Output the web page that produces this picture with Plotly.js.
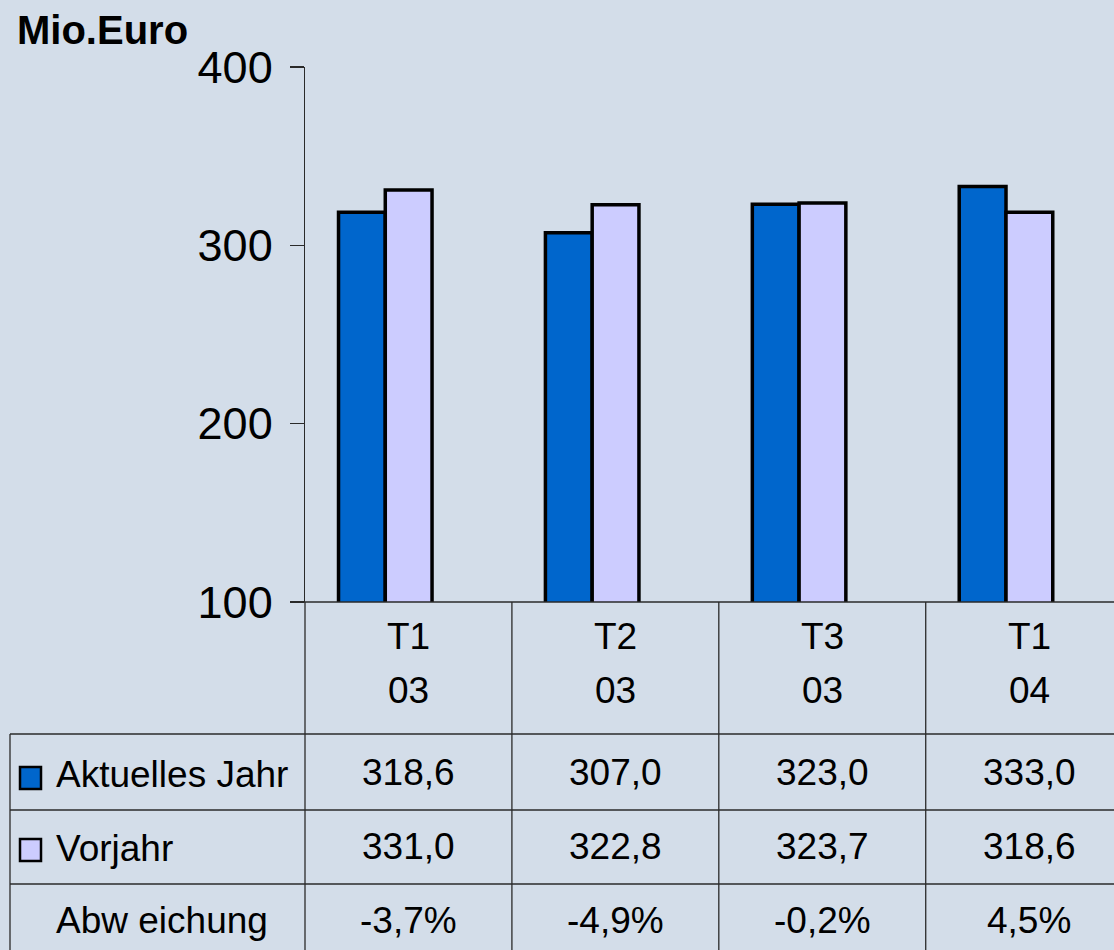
<!DOCTYPE html>
<html>
<head>
<meta charset="utf-8">
<script src="https://cdn.plot.ly/plotly-3.0.1.min.js"></script>
<style>
  body { margin: 0; background: #d3dde9; }
  #chart { width: 1114px; height: 950px; }
</style>
</head>
<body>
<div id="chart"></div>
<script>
"use strict";
// data
const quarters = ["T1", "T2", "T3", "T1"];
const years = ["03", "03", "03", "04"];
const aktuell = [318.6, 307.0, 323.0, 333.0];
const vorjahr = [331.0, 322.8, 323.7, 318.6];
const abweichung = [-3.7, -4.9, -0.2, 4.5];
const seriesNames = ["Aktuelles Jahr", "Vorjahr", "Abw eichung"];
const yTicks = [100, 200, 300, 400];

const BG = "#d3dde9";
const DARK = "#0066cc";
const LIGHT = "#ccccff";
const LINE = "#2a2a2a";
const FONT = "Liberation Sans, Arial, sans-serif";

// page geometry (pixels) used to place the table around the plot area
const L = 305, T = 67, PW = 809, PH = 535;
const px = x => (x - L) / PW;
const py = y => (T + PH - y) / PH;

const fmt = v => v.toFixed(1).replace(".", ",");
const idx = quarters.map((q, i) => i);

const traces = [
  {
    type: "bar", x: idx, y: aktuell, name: seriesNames[0],
    width: 0.226, offset: -0.338,
    marker: {color: DARK, line: {color: "#000", width: 3.5}},
    hoverinfo: "skip"
  },
  {
    type: "bar", x: idx, y: vorjahr, name: seriesNames[1],
    width: 0.226, offset: -0.112,
    marker: {color: LIGHT, line: {color: "#000", width: 3.5}},
    hoverinfo: "skip"
  }
];

const shapes = [];
const line = (x0, y0, x1, y1, xref) => shapes.push({
  type: "line", xref: xref || "paper", yref: "paper",
  x0: x0, y0: y0, x1: x1, y1: y1,
  line: {color: LINE, width: 1.3}
});

// baseline of chart + table row lines
line(px(291), py(602), px(1114), py(602));
line(px(10), py(734), px(1114), py(734));
line(px(10), py(810), px(1114), py(810));
line(px(10), py(884), px(1114), py(884));
// left table border and axis extension
line(px(10), py(734), px(10), py(950));
line(px(305), py(602), px(305), py(950));
// column separators between categories
idx.slice(1).forEach(i => line(i - 0.5, py(602), i - 0.5, py(950), "x"));

// legend keys in the table
[[DARK, 778], [LIGHT, 850]].forEach(([c, cy]) => shapes.push({
  type: "rect", xref: "paper", yref: "paper",
  x0: px(20), x1: px(41), y0: py(cy - 11), y1: py(cy + 11),
  fillcolor: c, line: {color: "#000", width: 2.5}
}));

const annotations = [];
const txt = (x, y, text, xref, opts) => annotations.push(Object.assign({
  x: x, y: y, xref: xref || "paper", yref: "paper", text: text,
  showarrow: false, xanchor: "center", yanchor: "middle",
  font: {family: FONT, size: 37, color: "#000"}
}, opts || {}));

txt(px(15), py(30), "<b>Mio.Euro</b>", "paper",
    {xanchor: "left", font: {family: FONT, size: 40, color: "#000"}});

idx.forEach(i => {
  txt(i, py(636), quarters[i], "x");
  txt(i, py(690), years[i], "x");
  txt(i, py(772), fmt(aktuell[i]), "x");
  txt(i, py(846), fmt(vorjahr[i]), "x");
  txt(i, py(920), fmt(abweichung[i]) + "%", "x");
});

txt(px(54), py(775), seriesNames[0], "paper", {xanchor: "left"});
txt(px(54), py(848), seriesNames[1], "paper", {xanchor: "left"});
txt(px(54), py(920), seriesNames[2], "paper", {xanchor: "left"});

const layout = {
  width: 1114, height: 950,
  margin: {l: L, r: 0, t: T, b: 950 - T - PH},
  paper_bgcolor: BG, plot_bgcolor: BG,
  showlegend: false,
  barmode: "overlay",
  xaxis: {
    range: [-0.5, 3.41], showticklabels: false, showgrid: false,
    zeroline: false, showline: false, ticks: "", fixedrange: true
  },
  yaxis: {
    range: [100, 400], tickvals: yTicks, showgrid: false, zeroline: false,
    showline: true, linecolor: LINE, linewidth: 1.3,
    ticks: "outside", ticklen: 14, tickcolor: LINE, tickwidth: 1.3,
    ticklabelstandoff: 8,
    tickfont: {family: FONT, size: 45, color: "#000"}
  },
  shapes: shapes,
  annotations: annotations
};

Plotly.newPlot("chart", traces, layout, {displayModeBar: false, staticPlot: true});
</script>
</body>
</html>
